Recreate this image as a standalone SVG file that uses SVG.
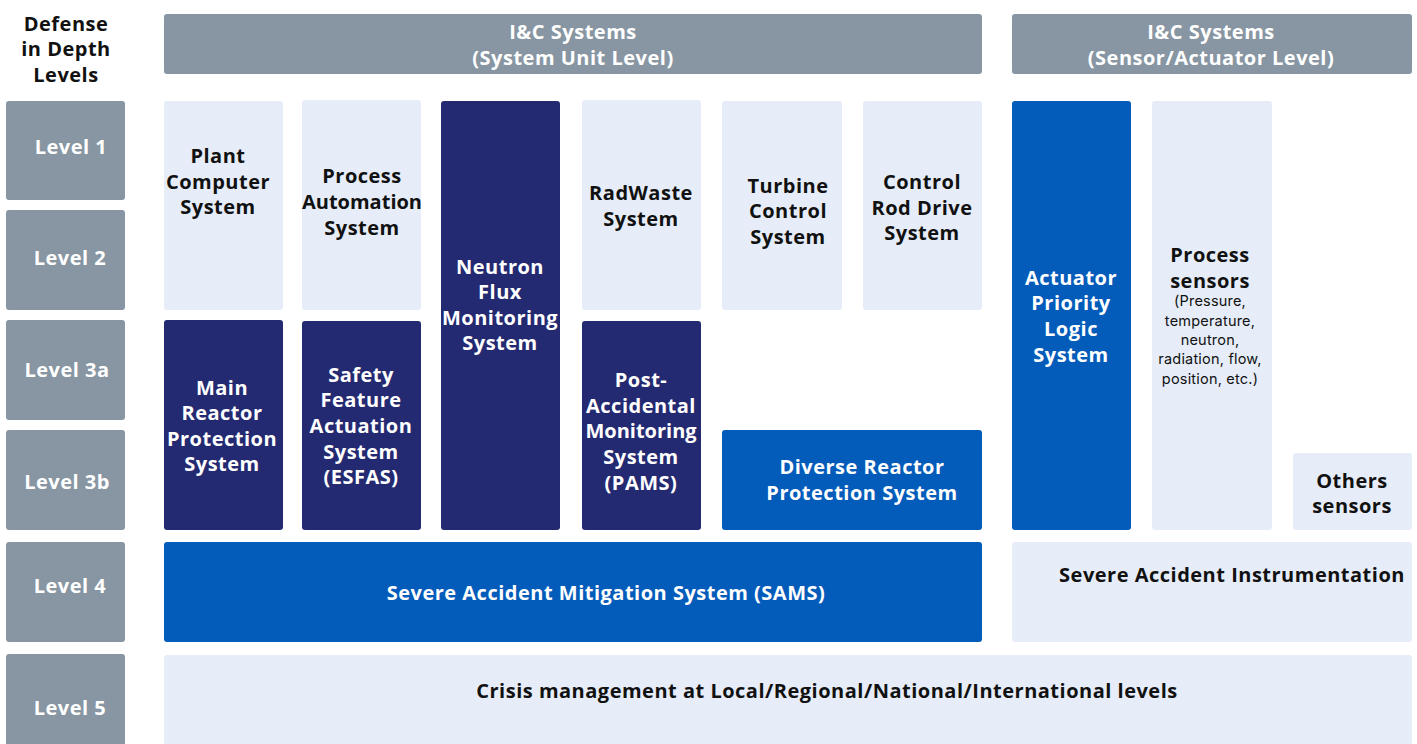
<svg xmlns="http://www.w3.org/2000/svg" width="1417" height="744" viewBox="0 0 1417 744">
<style>
.g{fill:#8796a2}
.l{fill:#e6edf8}
.d{fill:#242a71}
.b{fill:#035bba}
text{font-family:"Open Sans","Liberation Sans",sans-serif;font-weight:bold;font-size:20px;letter-spacing:0.5px;text-anchor:middle}
.w{fill:#ffffff}
.k{fill:#111111}
.n{letter-spacing:0}
.s{font-family:Inter,"Open Sans",sans-serif;font-weight:normal;font-size:14.5px;letter-spacing:0.2px}
</style>
<rect width="1417" height="744" fill="#ffffff"/>
<g id="title"><text class="k" x="66" y="31">Defense</text><text class="k" x="66" y="56">in Depth</text><text class="k" x="66" y="82">Levels</text></g>
<g id="levels">
<g id="level1"><rect class="g" x="6" y="101" width="119" height="99" rx="3"/><text class="w" x="71" y="154">Level 1</text></g>
<g id="level2"><rect class="g" x="6" y="210" width="119" height="100" rx="3"/><text class="w" x="70" y="265">Level 2</text></g>
<g id="level3a"><rect class="g" x="6" y="320" width="119" height="100" rx="3"/><text class="w" x="67" y="377">Level 3a</text></g>
<g id="level3b"><rect class="g" x="6" y="430" width="119" height="100" rx="3"/><text class="w" x="67" y="489">Level 3b</text></g>
<g id="level4"><rect class="g" x="6" y="542" width="119" height="100" rx="3"/><text class="w" x="70" y="593">Level 4</text></g>
<g id="level5"><rect class="g" x="6" y="654" width="119" height="100" rx="3"/><text class="w" x="70" y="715">Level 5</text></g>
</g>
<g id="header-unit"><rect class="g" x="164" y="14" width="818" height="60" rx="3"/><text class="w" x="573" y="39">I&amp;C Systems</text><text class="w" x="573" y="65">(System Unit Level)</text></g>
<g id="header-sensor"><rect class="g" x="1012" y="14" width="400" height="60" rx="3"/><text class="w" x="1211" y="39">I&amp;C Systems</text><text class="w" x="1211" y="65">(Sensor/Actuator Level)</text></g>
<g id="plant-computer"><rect class="l" x="164" y="101" width="119" height="209" rx="3"/><text class="k" x="218" y="163">Plant</text><text class="k" x="218" y="189">Computer</text><text class="k" x="218" y="214">System</text></g>
<g id="process-automation"><rect class="l" x="302" y="100" width="119" height="210" rx="3"/><text class="k" x="362" y="183">Process</text><text class="k n" x="362" y="209">Automation</text><text class="k" x="362" y="235">System</text></g>
<g id="neutron-flux"><rect class="d" x="441" y="101" width="119" height="429" rx="3"/><text class="w" x="500" y="274">Neutron</text><text class="w" x="500" y="299">Flux</text><text class="w" x="500" y="325">Monitoring</text><text class="w" x="500" y="350">System</text></g>
<g id="radwaste"><rect class="l" x="582" y="100" width="119" height="210" rx="3"/><text class="k" x="641" y="200">RadWaste</text><text class="k" x="641" y="226">System</text></g>
<g id="turbine"><rect class="l" x="722" y="101" width="120" height="209" rx="3"/><text class="k" x="788" y="193">Turbine</text><text class="k" x="788" y="218">Control</text><text class="k" x="788" y="244">System</text></g>
<g id="control-rod"><rect class="l" x="863" y="101" width="119" height="209" rx="3"/><text class="k" x="922" y="189">Control</text><text class="k" x="922" y="215">Rod Drive</text><text class="k" x="922" y="240">System</text></g>
<g id="main-reactor"><rect class="d" x="164" y="320" width="119" height="210" rx="3"/><text class="w" x="222" y="395">Main</text><text class="w" x="222" y="420">Reactor</text><text class="w" x="222" y="446">Protection</text><text class="w" x="222" y="471">System</text></g>
<g id="esfas"><rect class="d" x="302" y="321" width="119" height="209" rx="3"/><text class="w" x="361" y="382">Safety</text><text class="w" x="361" y="407">Feature</text><text class="w" x="361" y="433">Actuation</text><text class="w" x="361" y="459">System</text><text class="w" x="361" y="484">(ESFAS)</text></g>
<g id="pams"><rect class="d" x="582" y="321" width="119" height="209" rx="3"/><text class="w" x="641" y="387">Post-</text><text class="w" x="641" y="413">Accidental</text><text class="w n" x="641" y="438">Monitoring</text><text class="w" x="641" y="464">System</text><text class="w" x="641" y="490">(PAMS)</text></g>
<g id="diverse-reactor"><rect class="b" x="722" y="430" width="260" height="100" rx="3"/><text class="w" x="862" y="474">Diverse Reactor</text><text class="w" x="862" y="500">Protection System</text></g>
<g id="actuator"><rect class="b" x="1012" y="101" width="119" height="429" rx="3"/><text class="w" x="1071" y="285">Actuator</text><text class="w" x="1071" y="310">Priority</text><text class="w" x="1071" y="336">Logic</text><text class="w" x="1071" y="362">System</text></g>
<g id="process-sensors"><rect class="l" x="1152" y="101" width="120" height="429" rx="3"/><text class="k" x="1210" y="262">Process</text><text class="k" x="1210" y="288">sensors</text><text class="k s" x="1210" y="306">(Pressure,</text><text class="k s" x="1210" y="326">temperature,</text><text class="k s" x="1210" y="345">neutron,</text><text class="k s" x="1210" y="364">radiation, flow,</text><text class="k s" x="1210" y="384">position, etc.)</text></g>
<g id="others-sensors"><rect class="l" x="1293" y="453" width="119" height="77" rx="3"/><text class="k" x="1352" y="488">Others</text><text class="k" x="1352" y="513">sensors</text></g>
<g id="sams"><rect class="b" x="164" y="542" width="818" height="100" rx="3"/><text class="w" x="606" y="600">Severe Accident Mitigation System (SAMS)</text></g>
<g id="sai"><rect class="l" x="1012" y="542" width="400" height="100" rx="3"/><text class="k" x="1232" y="582">Severe Accident Instrumentation</text></g>
<g id="crisis"><rect class="l" x="164" y="655" width="1248" height="100" rx="3"/><text class="k" x="827" y="698">Crisis management at Local/Regional/National/International levels</text></g>
<g id="connectors"/>
</svg>
